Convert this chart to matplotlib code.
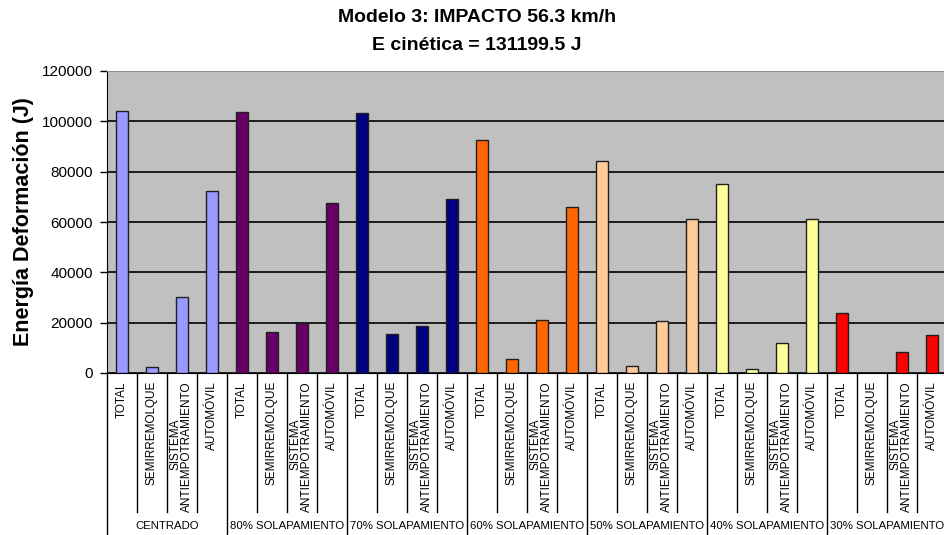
import matplotlib
matplotlib.use("Agg")
import matplotlib.pyplot as plt
import matplotlib.transforms as mtransforms

plt.rcParams['font.family'] = ['Liberation Sans', 'DejaVu Sans']

groups = ["CENTRADO", "80% SOLAPAMIENTO", "70% SOLAPAMIENTO", "60% SOLAPAMIENTO",
          "50% SOLAPAMIENTO", "40% SOLAPAMIENTO", "30% SOLAPAMIENTO"]
components = ["TOTAL", "SEMIRREMOLQUE", "SISTEMA\nANTIEMPOTRAMIENTO", "AUTOMÓVIL"]
group_colors = ["#9999FF", "#660066", "#000080", "#FF6600", "#FFCC99", "#FFFF99", "#FF0000"]

# Deformation energy (J) per group: TOTAL, SEMIRREMOLQUE, SISTEMA, AUTOMÓVIL
centrado = [104050, 2230, 30070, 72230]
solap_80 = [103640, 16150, 19730, 67610]
solap_70 = [103240, 15350, 18530, 69200]
solap_60 = [92500, 5570, 20920, 66140]
solap_50 = [84430, 2630, 20520, 61370]
solap_40 = [75170, 1710, 11780, 61250]
solap_30 = [23860, 0, 8470, 15230]

series = [centrado, solap_80, solap_70, solap_60, solap_50, solap_40, solap_30]

W, H = 945, 535
fig = plt.figure(figsize=(W / 100, H / 100), dpi=100)
ax_left, ax_right, ax_top, ax_bottom = 107, 947, 71, 373
ax = fig.add_axes([ax_left / W, 1 - ax_bottom / H,
                   (ax_right - ax_left) / W, (ax_bottom - ax_top) / H])
ax.set_facecolor("#C0C0C0")

n_comp = len(components)
for gi, (vals, col) in enumerate(zip(series, group_colors)):
    xs = [gi * n_comp + ci for ci in range(n_comp)]
    ax.bar(xs, vals, width=0.37, color=col, edgecolor="#202020", linewidth=1, zorder=3)

n_cat = n_comp * len(groups)
ax.set_xlim(-0.5, n_cat - 0.5)
ax.set_ylim(0, 120000)
ax.set_yticks(range(0, 120001, 20000))
ax.set_yticklabels([str(v) for v in range(0, 120001, 20000)], fontsize=11)
ax.tick_params(axis='y', length=5, width=1, color='black', pad=5)
ax.set_xticks([])
ax.yaxis.grid(True, color='black', linewidth=1.2, zorder=1)
ax.set_axisbelow(True)

ax.spines['right'].set_visible(False)
ax.spines['top'].set_color('#909090')
ax.spines['left'].set_color('black')
ax.spines['bottom'].set_color('black')

ax.set_ylabel("Energía Deformación (J)", fontsize=15.5, fontweight='bold')
ax.yaxis.set_label_coords(-(ax_left - 34) / (ax_right - ax_left), 0.5)

# Multi-level category axis
trans = mtransforms.blended_transform_factory(ax.transData, ax.transAxes)
ax_h = ax_bottom - ax_top
def px_to_axes_y(py):
    return -(py - ax_bottom) / ax_h

y_sub_end = px_to_axes_y(512)
y_grp_end = px_to_axes_y(540)
for k in range(n_cat + 1):
    x = k - 0.5
    yend = y_grp_end if k % n_comp == 0 else y_sub_end
    ax.plot([x, x], [0, yend], color='black', linewidth=1, transform=trans,
            clip_on=False, zorder=5)

sub_fs = 8.5
for gi in range(len(groups)):
    for ci, lab in enumerate(components):
        xc = gi * n_comp + ci
        lines = lab.split("\n")
        if len(lines) == 1:
            ax.text(xc, px_to_axes_y(381), lab, rotation=90, ha='center', va='top',
                    fontsize=sub_fs, transform=trans)
        else:
            # two-line label: short first line sits left and lower down the column
            ax.text(xc - 0.22, px_to_axes_y(419), lines[0], rotation=90, ha='center',
                    va='top', fontsize=sub_fs, transform=trans)
            ax.text(xc + 0.18, px_to_axes_y(381), lines[1], rotation=90, ha='center',
                    va='top', fontsize=sub_fs, transform=trans)
    ax.text(gi * n_comp + (n_comp - 1) / 2, px_to_axes_y(526), groups[gi],
            ha='center', va='center', fontsize=8.2, transform=trans)

fig.text(477 / W, 1 - 18 / H, "Modelo 3: IMPACTO 56.3 km/h", ha='center', va='center',
         fontsize=14, fontweight='bold')
fig.text(477 / W, 1 - 45 / H, "E cinética = 131199.5 J", ha='center', va='center',
         fontsize=14, fontweight='bold')

fig.savefig("out.png", dpi=100)
